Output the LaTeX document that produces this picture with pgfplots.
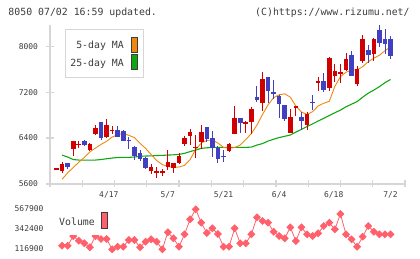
\documentclass[border=0pt]{standalone}
\usepackage{fontspec}
\setmainfont{DejaVu Sans Mono}
\usepackage{pgfplots}
\usepackage{pgfplotstable}
\pgfplotsset{compat=1.18}
\definecolor{cred}{RGB}{208,0,0}
\definecolor{cblue}{RGB}{64,64,192}
\definecolor{corange}{RGB}{240,136,16}
\definecolor{cgreen}{RGB}{16,168,16}
\definecolor{cvol}{RGB}{255,96,108}
\definecolor{axisgray}{RGB}{214,214,214}
\definecolor{textgray}{RGB}{60,60,60}

\pgfplotstableread{
i o h l c
0 5870 5870 5870 5870
1 5831 5988 5797 5948
3 6214 6348 6087 6348
4 6296 6356 6235 6296
6 6191 6318 6179 6296
7 6470 6626 6460 6577
9 6423 6727 6410 6626
10 6539 6609 6475 6539
17 5826 5948 5774 5901
18 5814 5890 5710 5814
19 5814 5856 5739 5814
20 5890 6191 5843 5988
21 5873 5970 5786 5970
22 5960 6134 5948 6087
23 6290 6435 6261 6400
24 6440 6556 6278 6504
25 6238 6452 6057 6238
26 6336 6626 6203 6510
31 6179 6307 6151 6290
32 6475 6956 6475 6743
34 6656 6701 6482 6683
35 6683 6934 6470 6899
37 7009 7544 6873 7426
42 6492 6899 6492 6760
43 6934 6956 6783 6956
45 6626 6857 6539 6817
47 7379 7466 7222 7379
49 7266 7814 7222 7788
50 7483 7699 7379 7565
51 7513 7699 7362 7556
52 7582 7883 7565 7786
54 7339 7652 7309 7600
55 7744 8191 7709 8134
57 7873 8151 7744 8122
}\redtab

\pgfplotstableread{
i o h l c
2 5970 5970 5866 5901
5 6348 6365 6261 6278
8 6675 6675 6365 6409
11 6539 6604 6417 6423
12 6527 6539 6350 6353
13 6360 6412 6217 6360
14 6247 6261 6026 6090
15 6144 6191 6005 6040
16 6057 6075 5856 5883
27 6586 6586 6325 6383
28 6395 6522 6075 6231
29 6231 6261 5960 6040
30 6087 6191 5977 6087
33 6743 6743 6482 6656
36 7118 7304 7021 7061
38 7466 7466 7014 7222
39 7188 7409 7078 7188
40 7130 7148 6753 6991
41 6974 6974 6701 6725
44 6765 6857 6539 6701
46 7021 7148 6887 7021
48 7391 7542 7205 7235
53 7856 7913 7483 7483
56 7930 8017 7709 7856
58 8278 8365 7988 8057
59 8134 8308 7873 8047
60 8122 8174 7786 7831
}\bluetab

\pgfplotsset{
  wick/.style={draw=none, mark=none,
    error bars/.cd, y dir=both, y explicit, error mark=none,
    error bar style={line width=0.9bp, draw=#1}},
  body/.style={draw=none, mark=none,
    error bars/.cd, y dir=both, y explicit, error mark=none,
    error bar style={line width=4.6bp, draw=#1}},
}

\begin{document}
\begin{tikzpicture}[x=1bp,y=1bp]
\useasboundingbox (0,0) rectangle (420,259);

\begin{axis}[
  at={(50bp,75bp)}, anchor=south west,
  scale only axis, width=355bp, height=159bp,
  xmin=-1.168, xmax=62.6, ymin=5600, ymax=8370,
  axis x line*=bottom, axis y line*=left,
  axis line style={draw=axisgray, line width=1.4bp},
  tick style={draw=axisgray, line width=1.2bp},
  tick align=center, major tick length=7bp,
  xtick={-1.168,4.629,10.426,16.223,22.02,27.817,33.614,39.41,45.21,51.0,56.8,62.6},
  xticklabels={},
  extra x ticks={9.4,20,30,40,49.8,60},
  extra x tick labels={4/17,5/7,5/21,6/4,6/18,7/2},
  extra x tick style={major tick length=0pt, tick label style={yshift=-4bp}},
  ytick={5600,6400,7200,8000},
  yticklabels={5600,6400,7200,8000},
  yticklabel style={xshift=-5bp},
  tick label style={font=\fontsize{8}{8}\selectfont, text=textgray},
  clip=false,
]
\addplot[cgreen, line width=1.1bp] coordinates {(1,6104)(2,6070)(3,6026)(4,6017)(5,6017)(6,6017)(7,6017)(8,6026)(9,6040)(10,6052)(11,6061)(12,6064)(13,6064)(14,6070)(15,6082)(16,6087)(17,6090)(18,6096)(19,6099)(20,6104)(21,6108)(22,6116)(23,6134)(24,6165)(25,6191)(26,6221)(27,6230)(28,6238)(29,6238)(30,6238)(31,6238)(32,6238)(33,6238)(34,6238)(35,6243)(36,6278)(37,6304)(38,6348)(39,6380)(40,6409)(41,6431)(42,6454)(43,6504)(44,6551)(45,6600)(46,6648)(47,6697)(48,6744)(49,6793)(50,6842)(51,6887)(52,6945)(53,6991)(54,7035)(55,7113)(56,7182)(57,7235)(58,7296)(59,7365)(60,7421)};
\addplot[corange, line width=0.9bp] coordinates {(1,5682)(2,5793)(3,5887)(4,5979)(5,6063)(6,6160)(7,6226)(8,6290)(9,6344)(10,6417)(11,6461)(12,6482)(13,6447)(14,6409)(15,6308)(16,6221)(17,6113)(18,6009)(19,5939)(20,5904)(21,5890)(22,5896)(23,5925)(24,6026)(25,6200)(26,6313)(27,6360)(28,6365)(29,6313)(30,6238)(31,6221)(32,6235)(33,6278)(34,6374)(35,6478)(36,6626)(37,6809)(38,6979)(39,7104)(40,7156)(41,7170)(42,7113)(43,6956)(44,6856)(45,6809)(46,6861)(47,6960)(48,7007)(49,7040)(50,7300)(51,7470)(52,7548)(53,7582)(54,7591)(55,7643)(56,7730)(57,7791)(58,7843)(59,7922)(60,7988)};

\addplot[wick=cred] table[x=i, y expr={(\thisrow{h}+\thisrow{l})/2}, y error expr={(\thisrow{h}-\thisrow{l})/2}] {\redtab};
\addplot[body=cred] table[x=i, y expr={(\thisrow{o}+\thisrow{c})/2}, y error expr={max(abs(\thisrow{o}-\thisrow{c})/2,9)}] {\redtab};
\addplot[wick=cblue] table[x=i, y expr={(\thisrow{h}+\thisrow{l})/2}, y error expr={(\thisrow{h}-\thisrow{l})/2}] {\bluetab};
\addplot[body=cblue] table[x=i, y expr={(\thisrow{o}+\thisrow{c})/2}, y error expr={max(abs(\thisrow{o}-\thisrow{c})/2,9)}] {\bluetab};
\end{axis}

\begin{axis}[
  at={(50bp,7bp)}, anchor=south west,
  scale only axis, width=355bp, height=52bp,
  xmin=-1.168, xmax=62.6, ymin=83075, ymax=669375,
  axis line style={draw=none},
  xtick=\empty,
  scaled y ticks=false,
  ytick={116900,342400,567900},
  yticklabels={116900,342400,567900},
  major tick length=0pt,
  yticklabel style={xshift=-3bp},
  tick label style={font=\fontsize{8}{8}\selectfont, text=textgray},
  clip=false,
]
\addplot[cvol, line width=0.8bp, mark=square*, mark size=2.4bp, mark options={rotate=45, draw=cvol, fill=cvol}] coordinates {(1,154100)(2,154100)(3,262200)(4,210500)(5,181200)(6,136100)(7,262200)(8,229650)(9,229650)(10,113500)(11,142800)(12,142800)(13,218400)(14,218400)(15,136100)(16,199200)(17,226300)(18,199200)(19,113500)(20,305200)(21,237500)(22,142800)(23,282600)(24,451800)(25,564500)(26,413400)(27,297300)(28,350300)(29,286000)(30,142800)(31,142800)(32,350300)(33,181200)(34,181200)(35,282600)(36,474300)(37,432600)(38,413400)(39,312000)(40,263500)(41,237500)(42,361600)(43,207100)(44,361600)(45,282600)(46,263500)(47,293900)(48,376200)(49,413400)(50,339000)(51,511500)(52,282600)(53,226300)(54,142800)(55,255600)(56,376200)(57,312000)(58,282600)(59,282600)(60,282600)};
\end{axis}

% title texts
\node[anchor=west, inner sep=0, text=textgray, font=\fontsize{9.9}{10}\selectfont] at (8.3,246) {8050 07/02 16:59 updated.};
\node[anchor=west, inner sep=0, text=textgray, font=\fontsize{9.9}{10}\selectfont] at (255,246) {(C)https://www.rizumu.net/};

% MA legend
\draw[axisgray, line width=1bp, fill=white] (65,181.7) rectangle (143.7,229);
\node[anchor=east, inner sep=0, text=textgray, font=\fontsize{9.9}{10}\selectfont] at (124,213) {5-day MA};
\node[anchor=east, inner sep=0, text=textgray, font=\fontsize{9.9}{10}\selectfont] at (124,195.7) {25-day MA};
\draw[textgray, line width=0.8bp, fill=corange] (131.3,206.3) rectangle (137.3,221.7);
\draw[textgray, line width=0.8bp, fill=cgreen] (131.3,189.7) rectangle (137.3,204.7);

% volume legend (white backing hides the series behind it)
\fill[white] (53,23.7) rectangle (111,56);
\node[anchor=west, inner sep=0, text=textgray, font=\fontsize{9.9}{10}\selectfont] at (59,37) {Volume};
\draw[textgray, line width=0.8bp, fill=cvol] (101.7,30.7) rectangle (107.3,46.3);
\end{tikzpicture}
\end{document}
